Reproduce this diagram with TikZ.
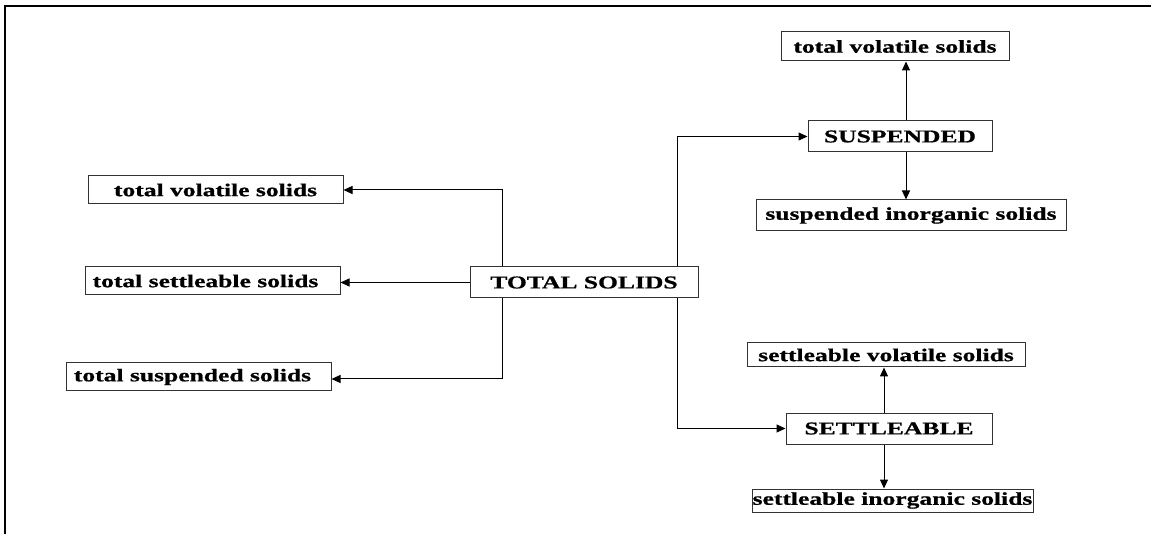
\documentclass[tikz,border=0pt]{standalone}
\usepackage{fontspec}
\setmainfont{Liberation Serif}[FakeStretch=1.42,BoldFeatures={FakeStretch=1.42,FakeBold=0.8}]
\usetikzlibrary{arrows.meta,calc}
\begin{document}
\begin{tikzpicture}[x=1pt,y=-1pt,
  box/.style={draw=black!80,line width=1pt,inner sep=0pt,font=\fontsize{18}{20}\selectfont\bfseries},
  arr/.style={draw=black,line width=1pt,-{Triangle[length=9pt,width=8pt]}},
  frame/.style={line width=2.5pt,black}]
\useasboundingbox (0,0) rectangle (1151,534);
\draw[frame] (1151,6) -- (5,6) -- (5,534);
% nodes
\node[box,minimum width=228pt,minimum height=31pt] (ts) at (584,282.5) {TOTAL SOLIDS};
\node[box,minimum width=255pt,minimum height=28pt] (ltvs) at (215.5,190) {total volatile solids};
\node[box,minimum width=255pt,minimum height=28pt] (ltss) at (212.5,281) {\hspace*{-14pt}total settleable solids};
\node[box,minimum width=265pt,minimum height=28pt] (ltsp) at (198.5,377) {\hspace*{-12pt}total suspended solids};
\node[box,minimum width=184pt,minimum height=31pt] (susp) at (900,136.5) {SUSPENDED};
\node[box,minimum width=228pt,minimum height=29pt] (rtvs) at (895,46.5) {total volatile solids};
\node[box,minimum width=310pt,minimum height=31pt] (sio) at (911,215.5) {suspended inorganic solids};
\node[box,minimum width=206pt,minimum height=31pt] (stl) at (889,428.5) {SETTLEABLE};
\node[box,minimum width=278pt,minimum height=24pt] (svs) at (886,355) {settleable volatile solids};
\node[box,minimum width=281pt,minimum height=23pt] (sli) at (892.5,500.5) {settleable inorganic solids};
% connectors
\draw[arr] ([xshift=33pt]ts.north west) |- (ltvs.east);
\draw[arr] (ts.west) -- (ltss.east |- ts.west);
\draw[arr] ([xshift=33pt]ts.south west) |- ([yshift=-2pt]ltsp.east);
\draw[arr] ([xshift=-21pt]ts.north east) |- (susp.west);
\draw[arr] ([xshift=-21pt]ts.south east) |- (stl.west);
\draw[arr] ([xshift=6pt]susp.north) -- ([xshift=6pt]susp.north |- rtvs.south);
\draw[arr] ([xshift=6pt]susp.south) -- ([xshift=6pt]susp.south |- sio.north);
\draw[arr] ([xshift=-5pt]stl.north) -- ([xshift=-5pt]stl.north |- svs.south);
\draw[arr] ([xshift=-5pt]stl.south) -- ([xshift=-5pt]stl.south |- sli.north);
\end{tikzpicture}
\end{document}
